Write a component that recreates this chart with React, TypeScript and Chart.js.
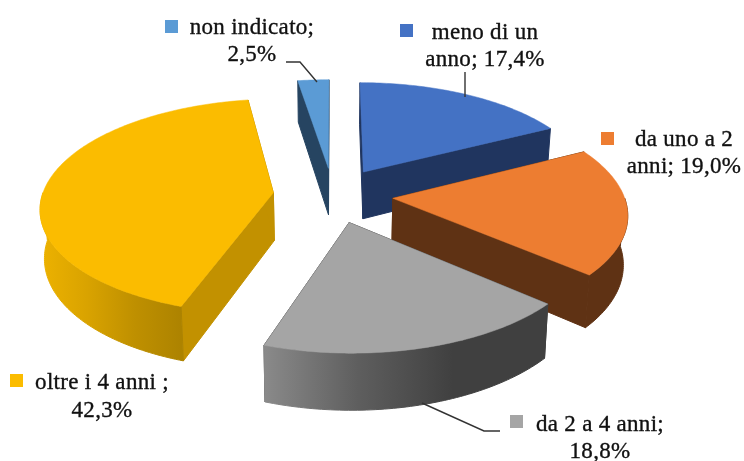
import React, { useEffect, useRef } from "react";
import { Chart, ArcElement, PieController } from "chart.js";

// ---- data ----
const categories = ["meno di un anno", "da uno a 2 anni", "da 2 a 4 anni", "oltre i 4 anni", "non indicato"];
const values = [17.4, 19.0, 18.8, 42.3, 2.5];
const labelLines = [
  ["meno di un", "anno; 17,4%"],
  ["da uno a 2", "anni; 19,0%"],
  ["da 2 a 4 anni;", "18,8%"],
  ["oltre i 4 anni ;", "42,3%"],
  ["non indicato;", "2,5%"],
];

// ---- styles ----
const topColors = ["#4472C4", "#ED7D31", "#A5A5A5", "#FBBC00", "#5B9BD5"];
const sideColors = ["#20355F", "#5F3214", "#444444", "#C29100", "#264461"];
const wallStops: (string[] | null)[] = [
  null,
  null,
  ["#8A8A8A", "#5E5E5E", "#404040", "#404040"],
  ["#EDB200", "#D9A300", "#BF9000", "#AD8300"],
  null,
];
const paintOrder = [3, 4, 0, 1, 2];

const TILT = 0.46;
const VIEW_DIST = 1810;
const DEPTH = 48;
const BASE_SHRINK = 0.985;

const labelBoxes = [
  { cx: 485, y1: 33, y2: 60, kx: 400, ky: 24 },
  { cx: 684, y1: 140, y2: 167, kx: 601, ky: 132 },
  { cx: 600, y1: 425, y2: 452, kx: 510, ky: 415 },
  { cx: 102, y1: 383, y2: 411, kx: 10, ky: 374 },
  { cx: 252, y1: 28, y2: 55, kx: 165, ky: 20 },
];
const leaders: [number, number][][] = [
  [[465, 72], [465, 97]],
  [[422, 403], [484, 431], [500, 431]],
  [[286, 62], [300, 62], [317, 82]],
];

class Arc3D extends ArcElement {
  static id = "arc3d";
  sliceIndex = 0;

  draw(ctx: CanvasRenderingContext2D) {
    const self = this as any;
    const { x, y, startAngle, endAngle, outerRadius, options } = self;
    const mid = (startAngle + endAngle) / 2;
    const ox = Math.cos(mid) * options.offset;
    const oy = Math.sin(mid) * options.offset;
    const top = (a: number, r: number): [number, number] => {
      const u = ox + r * Math.cos(a);
      const v = oy + r * Math.sin(a);
      const w = 1 / (1 - v / VIEW_DIST);
      return [x + u * w, y + v * TILT * w];
    };
    const base = (a: number, r: number): [number, number] => {
      const u = ox + r * Math.cos(a);
      const v = oy + r * Math.sin(a);
      const w = 1 / (1 - v / VIEW_DIST);
      return [x + u * w * BASE_SHRINK, y + v * TILT * w + DEPTH * w];
    };
    const R = outerRadius;
    const poly = (pts: [number, number][], fill: string | CanvasGradient, lw: number) => {
      ctx.beginPath();
      pts.forEach((p, i) => (i ? ctx.lineTo(p[0], p[1]) : ctx.moveTo(p[0], p[1])));
      ctx.closePath();
      ctx.fillStyle = fill;
      ctx.strokeStyle = fill;
      ctx.lineWidth = lw;
      ctx.fill();
      ctx.stroke();
    };
    const arcPts = (fn: typeof top, a0: number, a1: number) => {
      const n = Math.max(2, Math.ceil((a1 - a0) * 60));
      const out: [number, number][] = [];
      for (let i = 0; i <= n; i++) out.push(fn(a0 + ((a1 - a0) * i) / n, R));
      return out;
    };

    // radial walls
    poly([top(mid, 0), top(startAngle, R), base(startAngle, R), base(mid, 0)], options.borderColor, 1);
    poly([top(mid, 0), top(endAngle, R), base(endAngle, R), base(mid, 0)], options.borderColor, 1);

    // outer wall: only the part that faces the viewer
    const a0 = Math.max(startAngle, 0);
    const a1 = Math.min(endAngle, Math.PI);
    if (a1 > a0) {
      const t = arcPts(top, a0, a1);
      const b = arcPts(base, a0, a1).reverse();
      const stops = wallStops[this.sliceIndex];
      let fill: string | CanvasGradient = options.borderColor;
      if (stops) {
        const xs = t.map((p) => p[0]);
        const g = ctx.createLinearGradient(Math.min(...xs), 0, Math.max(...xs), 0);
        stops.forEach((c, i) => g.addColorStop(i / (stops.length - 1), c));
        fill = g;
      }
      poly([...t, ...b], fill, 1);
    }

    // top face
    poly([top(mid, 0), ...arcPts(top, startAngle, endAngle)], options.backgroundColor, 0.5);
  }
}

class Pie3DController extends PieController {
  static id = "pie3d";
  static defaults = { dataElementType: "arc3d" };

  draw() {
    const self = this as any;
    const ctx = self.chart.ctx;
    const arcs = self.getMeta().data;
    paintOrder.forEach((i) => {
      arcs[i].sliceIndex = i;
      arcs[i].draw(ctx, self.chart.chartArea);
    });
  }
}

const labelsPlugin = {
  id: "labels3d",
  afterDraw(chart: any) {
    const ctx: CanvasRenderingContext2D = chart.ctx;
    ctx.save();
    ctx.strokeStyle = "#333333";
    ctx.lineWidth = 1.4;
    leaders.forEach((pts) => {
      ctx.beginPath();
      pts.forEach((p, i) => (i ? ctx.lineTo(p[0], p[1]) : ctx.moveTo(p[0], p[1])));
      ctx.stroke();
    });
    ctx.font = '23px "Liberation Serif"';
    (ctx as any).letterSpacing = "0.3px";
    ctx.textAlign = "center";
    ctx.textBaseline = "middle";
    ctx.lineWidth = 0.35;
    ctx.strokeStyle = "#111111";
    labelLines.forEach((lines, i) => {
      const b = labelBoxes[i];
      ctx.fillStyle = topColors[i];
      ctx.fillRect(b.kx, b.ky, 13, 13);
      ctx.fillStyle = "#111111";
      [lines[0], lines[1]].forEach((s, j) => {
        const yy = j ? b.y2 : b.y1;
        ctx.fillText(s, b.cx, yy);
        ctx.strokeText(s, b.cx, yy);
      });
    });
    ctx.restore();
  },
};

Chart.register(ArcElement, PieController, Arc3D as any, Pie3DController as any);

export default function App() {
  const ref = useRef<HTMLCanvasElement>(null);
  useEffect(() => {
    document.body.style.margin = "0";
    const chart = new Chart(ref.current!, {
      type: "pie3d" as any,
      data: {
        labels: categories,
        datasets: [
          {
            data: values,
            backgroundColor: topColors,
            borderColor: sideColors,
            offset: 60,
            borderWidth: 0,
          } as any,
        ],
      },
      options: {
        animation: false,
        responsive: false,
        events: [],
        radius: 231,
        layout: { padding: { right: 78, bottom: 71 } },
        plugins: { legend: { display: false }, tooltip: { enabled: false } },
      } as any,
      plugins: [labelsPlugin],
    });
    return () => chart.destroy();
  }, []);
  return <canvas ref={ref} width={744} height={461} style={{ display: "block" }} />;
}
